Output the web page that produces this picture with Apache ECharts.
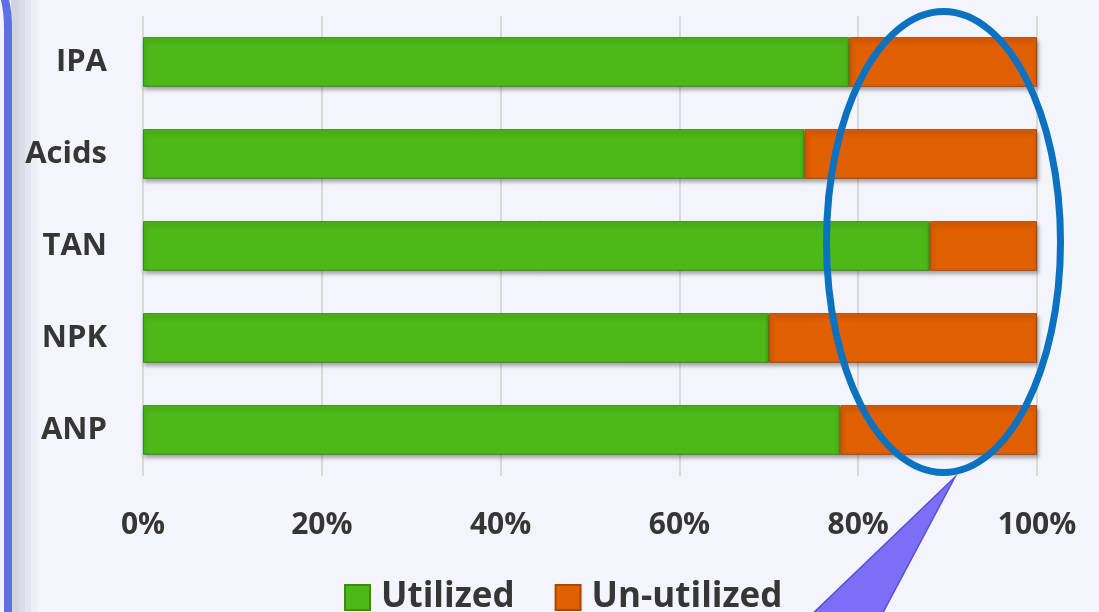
<!DOCTYPE html>
<html>
<head>
<meta charset="utf-8">
<script src="https://cdn.jsdelivr.net/npm/echarts@6/dist/echarts.min.js"></script>
<style>
  html, body { margin: 0; padding: 0; background: #f3f4fc; }
  #chart { width: 1099px; height: 612px; }
</style>
</head>
<body>
<div id="chart"></div>
<script>
// Share of each product that is utilized vs. left un-utilized (percent)
const categories = ['IPA', 'Acids', 'TAN', 'NPK', 'ANP'];
const utilized = [79, 74, 88, 70, 78];
const unUtilized = [21, 26, 12, 30, 22];
const xTicks = [0, 20, 40, 60, 80, 100];

const FONT = '"Open Sans", "DejaVu Sans", sans-serif';
const TEXT = '#363636';

const chart = echarts.init(document.getElementById('chart'), null, { renderer: 'canvas' });

const barShadow = {
  shadowColor: 'rgba(0,0,0,0.35)',
  shadowBlur: 4,
  shadowOffsetX: 1,
  shadowOffsetY: 3
};

chart.setOption({
  backgroundColor: '#f3f4fc',
  animation: false,
  grid: { left: 143, right: 62, top: 16, bottom: 136, containLabel: false },
  xAxis: {
    type: 'value',
    min: xTicks[0],
    max: xTicks[xTicks.length - 1],
    interval: xTicks[1] - xTicks[0],
    axisLine: { show: false },
    axisTick: { show: false },
    splitLine: { show: true, lineStyle: { color: '#dadada', width: 2 } },
    axisLabel: {
      formatter: '{value}%',
      margin: 34,
      color: TEXT,
      fontFamily: FONT,
      fontWeight: 'bold',
      fontSize: 30
    }
  },
  yAxis: {
    type: 'category',
    data: categories,
    inverse: true,
    axisLine: { show: false },
    axisTick: { show: false },
    splitLine: { show: false },
    axisLabel: {
      margin: 36,
      color: TEXT,
      fontFamily: FONT,
      fontWeight: 'bold',
      fontSize: 31
    }
  },
  legend: {
    bottom: -8,
    left: 339,
    itemWidth: 25,
    itemHeight: 25,
    itemGap: 40,
    icon: 'rect',
    textStyle: {
      color: TEXT,
      fontFamily: FONT,
      fontWeight: 'bold',
      fontSize: 35,
      padding: [0, 0, 0, 6]
    },
    data: ['Utilized', 'Un-utilized']
  },
  series: [
    {
      name: 'Utilized',
      type: 'bar',
      stack: 'share',
      barWidth: '54%',
      data: utilized,
      itemStyle: Object.assign({ color: '#4db818', borderColor: '#3c8c12', borderWidth: 1 }, barShadow)
    },
    {
      name: 'Un-utilized',
      type: 'bar',
      stack: 'share',
      barWidth: '54%',
      data: unUtilized,
      itemStyle: Object.assign({ color: '#e05f00', borderColor: '#a94800', borderWidth: 1 }, barShadow)
    }
  ],
  graphic: [
    // soft shadow strip beside the left frame edge (kept under the labels)
    { type: 'rect', z: -10, silent: true, shape: { x: 11, y: 0, width: 8, height: 612 }, style: { fill: '#d3d3de' } },
    { type: 'rect', z: -10, silent: true, shape: { x: 19, y: 0, width: 6, height: 612 }, style: { fill: '#dcdce7' } },
    { type: 'rect', z: -10, silent: true, shape: { x: 25, y: 0, width: 6, height: 612 }, style: { fill: '#e5e5ef' } },
    { type: 'rect', z: -10, silent: true, shape: { x: 31, y: 0, width: 6, height: 612 }, style: { fill: '#ededf6' } },
    // left frame edge
    {
      type: 'line', z: 60, silent: true,
      shape: { x1: 8, y1: 620, x2: 8, y2: 27 },
      style: { stroke: '#5d6fe2', lineWidth: 8 }
    },
    {
      type: 'bezierCurve', z: 60, silent: true,
      shape: { x1: 8, y1: 28, cpx1: 8, cpy1: 10, x2: 4, y2: -4 },
      style: { fill: 'none', stroke: '#5d6fe2', lineWidth: 8 }
    },
    // highlight ellipse around the right end of the bars
    {
      type: 'ellipse', z: 100, silent: true,
      shape: { cx: 943.5, cy: 242, rx: 117, ry: 230.5 },
      style: { fill: 'none', stroke: '#0b72c1', lineWidth: 7 }
    },
    // callout pointer
    {
      type: 'polygon', z: 100, silent: true,
      shape: { points: [[955, 477], [806, 620], [879, 620]] },
      style: { fill: '#7c6ef6', stroke: '#5b4fd2', lineWidth: 1.5 }
    }
  ]
});
</script>
</body>
</html>
